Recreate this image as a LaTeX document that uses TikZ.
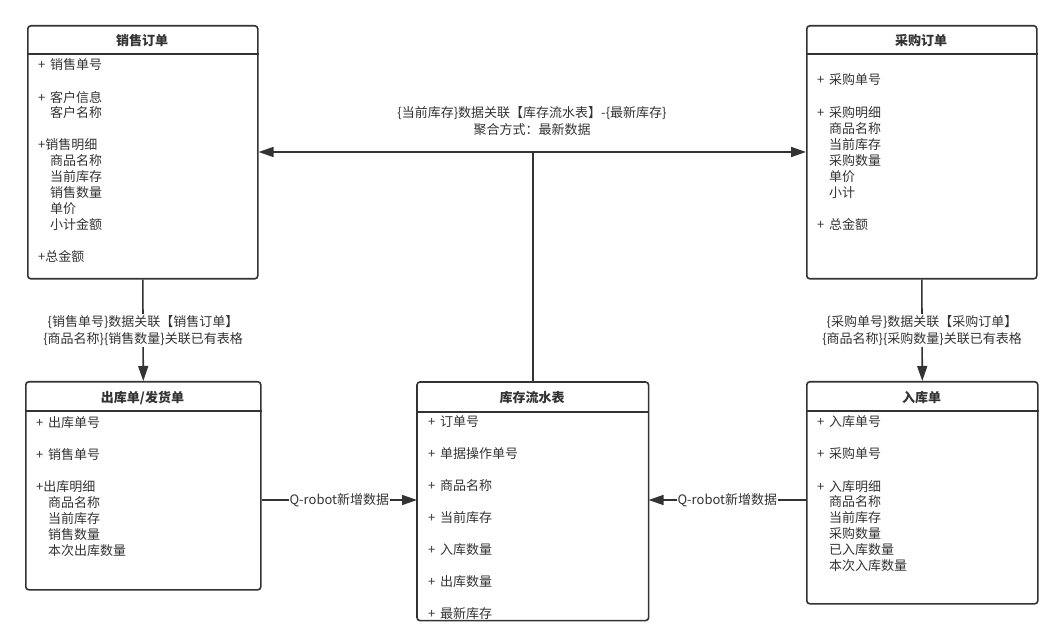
\documentclass[tikz,border=0pt]{standalone}
\usepackage{fontspec}
\setmainfont{Noto Sans CJK SC}
\usetikzlibrary{arrows.meta}
\definecolor{ink}{HTML}{333333}
\newcommand\pl{\makebox[12pt][l]{+}}
\begin{document}
\begin{tikzpicture}[x=1pt,y=-1pt,
  box/.style={draw=ink, line width=1.6pt, rounded corners=3pt, anchor=north west, inner sep=0pt},
  ttl/.style={font=\fontsize{13}{15}\selectfont\bfseries, text=ink, inner sep=0pt},
  itm/.style={font=\fontsize{13}{15}\selectfont, text=ink, anchor=west, inner sep=0pt},
  conn/.style={draw=ink, line width=1.6pt},
  tip/.style={-{Triangle[length=15pt,width=10pt]}},
  lbl/.style={font=\fontsize{13}{17}\selectfont, text=ink, align=center, fill=white, inner sep=1.5pt},
]
\useasboundingbox[fill=white] (0,0) rectangle (1061,644);

% boxes
\node[box, minimum width=230pt, minimum height=253pt] (so) at (27,25) {};
\node[box, minimum width=230pt, minimum height=253pt] (cg) at (806,25) {};
\node[box, minimum width=235pt, minimum height=208pt] (ck) at (25,381) {};
\node[box, draw=none, minimum width=230pt, minimum height=237pt] (kc) at (417,382) {};
\node[box, minimum width=231pt, minimum height=222pt] (rk) at (806,381) {};

% header separators
\foreach \b/\h in {so/29,cg/29,ck/30,kc/30,rk/30}
  \draw[conn] ([yshift=-\h pt]\b.north west) -- ([yshift=-\h pt]\b.north east);

% titles
\node[ttl] (so-t) at (142,41) {销售订单};
\node[ttl] (cg-t) at (921,41) {采购订单};
\node[ttl] (ck-t) at (142.5,398) {出库单/发货单};
\node[ttl] (kc-t) at (532,398) {库存流水表};
\node[ttl] (rk-t) at (921.5,398) {入库单};

% 销售订单
\node[itm] (so1) at (38,65) {\pl 销售单号};
\node[itm] (so2) at (38,98) {\pl 客户信息};
\node[itm] (so3) at (50,113) {客户名称};
\node[itm] (so4) at (38,145) {+销售明细};
\node[itm] (so5) at (50,161) {商品名称};
\node[itm] (so6) at (50,177) {当前库存};
\node[itm] (so7) at (50,193) {销售数量};
\node[itm] (so8) at (50,209) {单价};
\node[itm] (so9) at (50,225) {小计金额};
\node[itm] (so10) at (38,257) {+总金额};

% 采购订单
\node[itm] (cg1) at (817,80) {\pl 采购单号};
\node[itm] (cg2) at (817,113) {\pl 采购明细};
\node[itm] (cg3) at (829,129) {商品名称};
\node[itm] (cg4) at (829,145) {当前库存};
\node[itm] (cg5) at (829,161) {采购数量};
\node[itm] (cg6) at (829,177) {单价};
\node[itm] (cg7) at (829,193) {小计};
\node[itm] (cg8) at (817,225) {\pl 总金额};

% 出库单/发货单
\node[itm] (ck1) at (36,423) {\pl 出库单号};
\node[itm] (ck2) at (36,455) {\pl 销售单号};
\node[itm] (ck3) at (36,487) {+出库明细};
\node[itm] (ck4) at (48,503) {商品名称};
\node[itm] (ck5) at (48,519) {当前库存};
\node[itm] (ck6) at (48,535) {销售数量};
\node[itm] (ck7) at (48,551) {本次出库数量};

% 库存流水表
\begin{scope}
\clip (kc.north west) rectangle (kc.south east);
\node[itm] (kc1) at (428,422) {\pl 订单号};
\node[itm] (kc2) at (428,454) {\pl 单据操作单号};
\node[itm] (kc3) at (428,486) {\pl 商品名称};
\node[itm] (kc4) at (428,518) {\pl 当前库存};
\node[itm] (kc5) at (428,550) {\pl 入库数量};
\node[itm] (kc6) at (428,582) {\pl 出库数量};
\node[itm] (kc7) at (428,614) {\pl 最新库存};
\end{scope}
\draw[conn, rounded corners=3pt] (kc.north west) rectangle (kc.south east);

% 入库单
\node[itm] (rk1) at (817,422) {\pl 入库单号};
\node[itm] (rk2) at (817,454) {\pl 采购单号};
\node[itm] (rk3) at (817,487) {\pl 入库明细};
\node[itm] (rk4) at (829,502) {商品名称};
\node[itm] (rk5) at (829,518) {当前库存};
\node[itm] (rk6) at (829,534) {采购数量};
\node[itm] (rk7) at (829,550) {已入库数量};
\node[itm] (rk8) at (829,566) {本次入库数量};

% connectors
\coordinate (j) at (532,152);
\coordinate (r) at (0,500);
\draw[conn] (kc.north) -- (kc.north |- j);
\draw[conn, tip] (kc.north |- j) -- (so.east |- j);
\draw[conn, tip] (kc.north |- j) -- (cg.west |- j);
\node[lbl, fill=none] (toplbl) at (532,121) {\{当前库存\}数据关联【库存流水表】-\{最新库存\}\\聚合方式：最新数据};

\draw[conn, tip] (so.south) -- node[lbl] (l1) {\{销售单号\}数据关联【销售订单】\\\{商品名称\}\{销售数量\}关联已有表格} (ck.north);
\draw[conn, tip] (cg.south) -- node[lbl] (l2) {\{采购单号\}数据关联【采购订单】\\\{商品名称\}\{采购数量\}关联已有表格} (rk.north);

\draw[conn, tip] (ck.east |- r) -- node[lbl, inner sep=0.5pt] (l3) {Q-robot新增数据} (kc.west |- r);
\draw[conn, tip] (rk.west |- r) -- node[lbl, inner sep=0.5pt] (l4) {Q-robot新增数据} (kc.east |- r);
\end{tikzpicture}
\end{document}
